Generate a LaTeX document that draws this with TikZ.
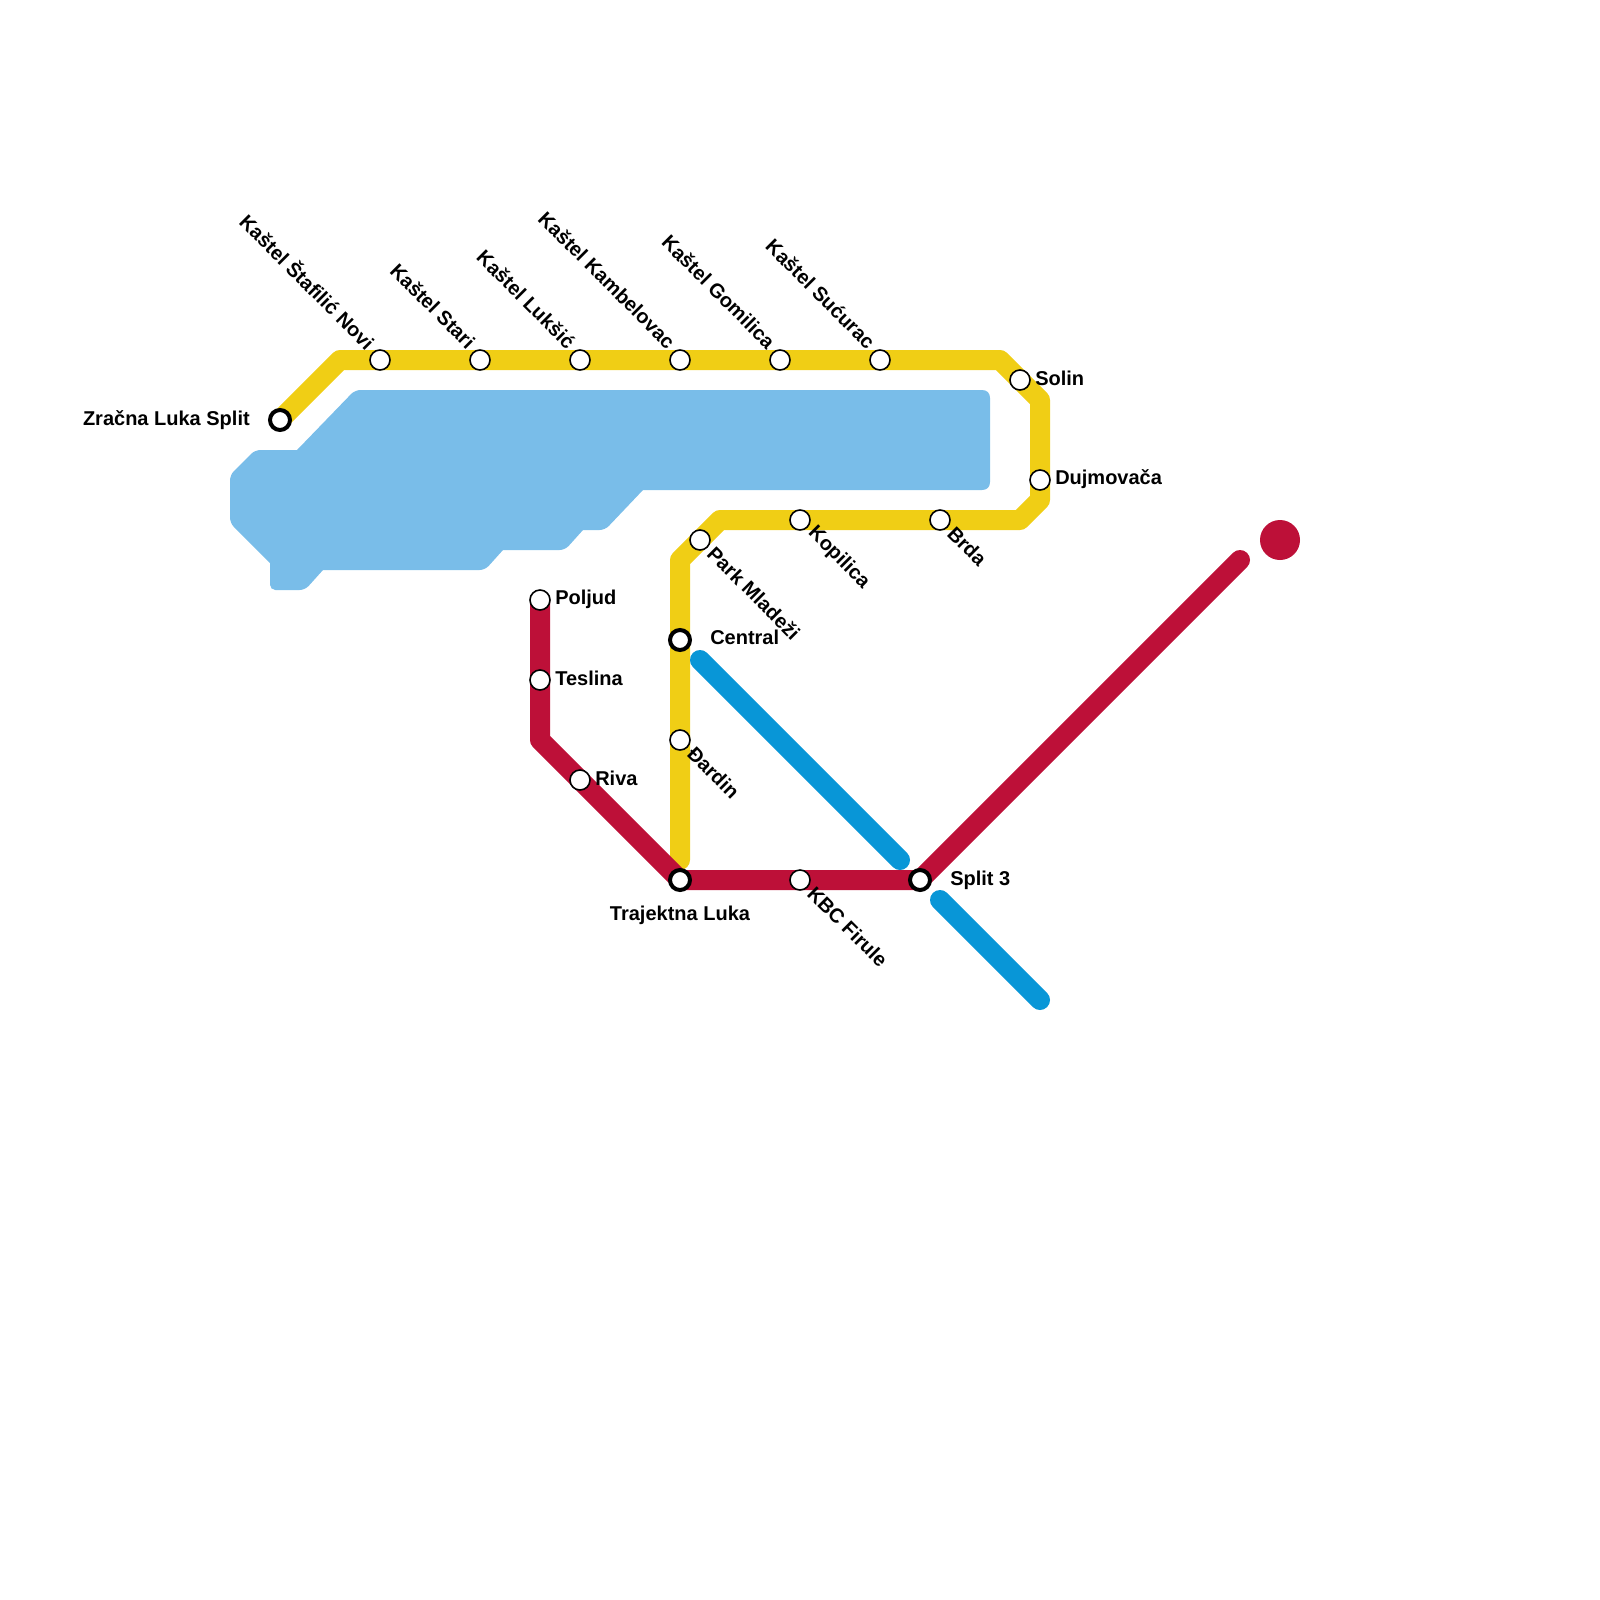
\documentclass[tikz,border=0pt]{standalone}
\usepackage{fontspec}
\setmainfont{Liberation Sans}
\usetikzlibrary{
    backgrounds
}
\definecolor{yline}{HTML}{F0CE15}
\definecolor{rline}{HTML}{BD1038}
\definecolor{bline}{HTML}{0896D7}
\definecolor{water}{HTML}{79BDE9}
\tikzset{stn/.style={inner sep=0pt, minimum size=15pt, circle, draw=black, line width=1.2pt, fill=white}}
\tikzset{hub/.style={inner sep=0pt, minimum size=15pt, circle, draw=black, line width=3pt, fill=white}}
\tikzset{lbl/.style={inner sep=0pt, font=\fontsize{15}{18}\selectfont\bfseries}}
\tikzset{dnl/.style={lbl, rotate=-45, anchor=west}}
\tikzset{upl/.style={lbl, rotate=-45, anchor=east}}
\tikzset{track/.style={line width=15pt, line cap=round, line join=round}}
\tikzset{rc/.style={rounded corners=4pt}}

\begin{document}
\begin{tikzpicture}[x=0.75pt, y=-0.75pt]
                    \useasboundingbox (0, 0) rectangle (1600, 1600);

                    \node[hub] (zracna) at (280, 420) {};
                    \node[stn] (stafilic) at (380, 360) {};
                    \node[stn] (stari) at (480, 360) {};
                    \node[stn] (luksic) at (580, 360) {};
                    \node[stn] (kambelovac) at (680, 360) {};
                    \node[stn] (gomilica) at (780, 360) {};
                    \node[stn] (sucurac) at (880, 360) {};
                    \node[stn] (solin) at (1020, 380) {};
                    \node[stn] (dujmovaca) at (1040, 480) {};
                    \node[stn] (brda) at (940, 520) {};
                    \node[stn] (kopilica) at (800, 520) {};
                    \node[stn] (park) at (700, 540) {};
                    \node[hub] (central) at (680, 640) {};
                    \node[stn] (dardin) at (680, 740) {};
                    \node[hub] (trajektna) at (680, 880) {};
                    \node[stn] (firule) at (800, 880) {};
                    \node[hub] (split) at (920, 880) {};
                    \node[stn] (riva) at (580, 780) {};
                    \node[stn] (teslina) at (540, 680) {};
                    \node[stn] (poljud) at (540, 600) {};

                    \node[circle, inner sep=0pt, minimum size=30pt, fill=rline] (dot) at (1280, 540) {};

                    \coordinate (y1) at (340, 360);
                    \coordinate (y2) at (1000, 360);
                    \coordinate (y3) at (1040, 400);
                    \coordinate (y4) at (1040, 500);
                    \coordinate (y5) at (1020, 520);
                    \coordinate (y6) at (720, 520);
                    \coordinate (y7) at (680, 560);
                    \coordinate (y8) at (680, 860);
                    \coordinate (r1) at (540, 740);
                    \coordinate (r2) at (1240, 560);
                    \coordinate (b1) at (700, 660);
                    \coordinate (b2) at (900, 860);
                    \coordinate (b3) at (940, 900);
                    \coordinate (b4) at (1040, 1000);

                    \begin{scope}[on background layer]
                        \fill[water] (700, 390) -- (982, 390) .. controls (987, 390) and (990, 393) .. (990, 398)
                        -- (990, 482) .. controls (990, 487) and (987, 490) .. (982, 490) -- (643, 490)
                        [rc] -- (605, 530) [sharp corners] -- (583, 530)
                        [rc] -- (565, 550) [sharp corners] -- (503, 550) [rc] -- (485, 570)
                        [sharp corners] -- (323, 570) [rc] -- (305, 590) -- (270, 590)
                        [sharp corners] -- (270, 563) [rc] -- (230, 523) -- (230, 475) -- (255, 450)
                        [sharp corners] -- (297, 450) [rc] -- (355, 390) -- cycle;

                        \draw[track, yline] (zracna.center) -- (y1) -- (y2) -- (y3) -- (y4) -- (y5) -- (y6) -- (y7) -- (y8);
                        \draw[track, rline] (poljud.center) -- (r1) -- (trajektna.center) -- (split.center) -- (r2);
                        \draw[track, bline] (b1) -- (b2);
                        \draw[track, bline] (b3) -- (b4);
                    \end{scope}

                    \node[lbl, anchor=east] (zracnal) at (250, 420) {Zračna Luka Split};
                    \node[lbl, anchor=west] (solinl) at (1035, 378) {Solin};
                    \node[lbl, anchor=west] (dujmovacal) at (1055, 479) {Dujmovača};
                    \node[lbl, anchor=west] (poljudl) at (555, 599) {Poljud};
                    \node[lbl, anchor=west] (teslinal) at (555, 678) {Teslina};
                    \node[lbl, anchor=west] (rival) at (595, 778) {Riva};
                    \node[lbl, anchor=west] (centrall) at (710, 637) {Central};
                    \node[lbl, anchor=west] (splitl) at (950, 880) {Split 3};
                    \node[lbl] (trajektnal) at (680, 915) {Trajektna Luka};

                    \node[upl] (stafilicl) at (372, 345) {Kaštel Štafilić Novi};
                    \node[upl] (staril) at (472, 345) {Kaštel Stari};
                    \node[upl] (luksicl) at (572, 345) {Kaštel Lukšić};
                    \node[upl] (kambelovacl) at (672, 345) {Kaštel Kambelovac};
                    \node[upl] (gomilical) at (772, 345) {Kaštel Gomilica};
                    \node[upl] (sucuracl) at (872, 345) {Kaštel Sućurac};

                    \node[dnl] (brdal) at (951, 530) {Brda};
                    \node[dnl] (kopilical) at (811, 530) {Kopilica};
                    \node[dnl] (parkl) at (711, 550) {Park Mladeži};
                    \node[dnl] (dardinl) at (691, 750) {Đardin};
                    \node[dnl] (firulel) at (811, 890) {KBC Firule};
                \end{tikzpicture}
\end{document}
